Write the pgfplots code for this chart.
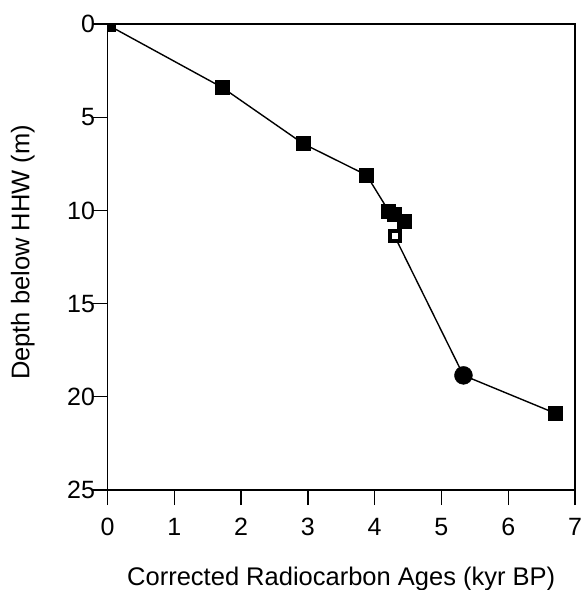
\documentclass[border=0pt]{standalone}
\usepackage{pgfplots}
\pgfplotsset{compat=1.18}
\usepackage{fontspec}
\setmainfont{Liberation Sans}
\begin{document}
\begin{tikzpicture}
\useasboundingbox (-107.5pt,-100pt) rectangle (476.5pt,490pt);
\begin{axis}[
  scale only axis,
  width=467.5pt, height=466pt,
  xmin=0, xmax=7, ymin=0, ymax=25,
  y dir=reverse,
  xtick={0,1,...,7}, ytick={0,5,...,25},
  tick align=outside,
  xtick pos=bottom, ytick pos=left,
  major tick length=15pt,
  axis line style={line width=1.5pt},
  every tick/.style={black, line width=1.3pt},
  /pgf/number format/assume math mode=true,
  tick label style={font=\fontsize{25}{25}\selectfont},
  xticklabel style={yshift=-10pt},
  yticklabel style={xshift=6pt},
  label style={font=\fontsize{25.5}{25.5}\selectfont},
  xlabel={Corrected Radiocarbon Ages (kyr BP)},
  xlabel style={at={(axis description cs:0.5,0)}, anchor=base, yshift=-95pt},
  ylabel={Depth below HHW (m)},
  ylabel style={at={(axis description cs:0,0.51)}, anchor=base, yshift=78pt},
  clip=false,
]
\addplot[black, line width=1.4pt, mark=none] coordinates {
  (0.06,0.16) (1.72,3.41) (2.93,6.42) (3.88,8.11) (4.21,10.03)
  (4.29,10.23) (4.44,10.57) (4.30,11.39) (5.33,18.85) (6.71,20.89)
};
\addplot[only marks, mark=square*, mark size=4pt, black] coordinates {(0.06,0.16)};
\addplot[only marks, mark=square*, mark size=7pt, black] coordinates {
  (1.72,3.41) (2.93,6.42) (3.88,8.11) (4.21,10.03) (4.29,10.23) (4.44,10.57) (6.71,20.89)
};
\addplot[only marks, mark=square*, mark size=5pt, mark options={draw=black, fill=white, line width=4pt}] coordinates {(4.30,11.39)};
\addplot[only marks, mark=*, mark size=9pt, black] coordinates {(5.33,18.85)};
\end{axis}
\end{tikzpicture}
\end{document}
